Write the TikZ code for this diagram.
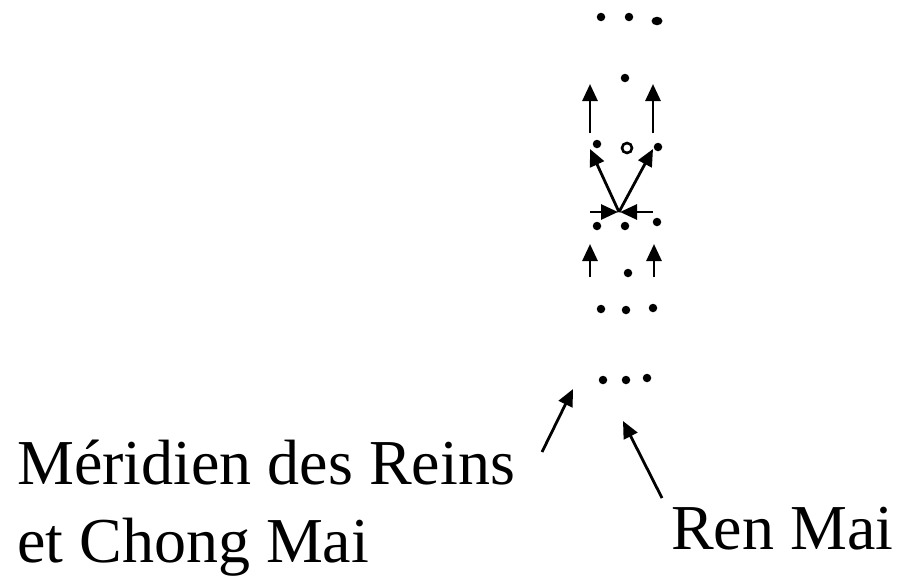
\documentclass[tikz,border=0pt]{standalone}
\usepackage{fontspec}
\setmainfont{Liberation Serif}
\usetikzlibrary{arrows.meta,shapes.geometric}
\begin{document}
\begin{tikzpicture}[x=1pt,y=-1pt,
  dot/.style={circle,fill=black,inner sep=0pt,minimum size=8.5pt},
  bigdot/.style={ellipse,fill=black,inner sep=0pt,minimum width=11pt,minimum height=8.5pt},
  ring/.style={circle,draw=black,line width=2.6pt,inner sep=0pt,minimum size=10pt},
  arr/.style={line width=2.8pt,-{Triangle[length=17pt,width=15pt]}},
  lbl/.style={inner sep=0pt,anchor=base west,font=\fontsize{64}{64}\selectfont}]
\useasboundingbox (0,0) rectangle (897,576);
% dots
\node[dot] (a1) at (601,17) {};
\node[dot] (a2) at (629,17) {};
\node[bigdot] (a3) at (657,21) {};
\node[dot] (b1) at (625,78) {};
\node[dot] (c1) at (597,144) {};
\node[ring] (c2) at (627,148) {};
\node[dot] (c3) at (658,147) {};
\node[dot] (d1) at (597,226) {};
\node[dot] (d2) at (625,226) {};
\node[dot] (d3) at (657,222) {};
\node[dot] (e1) at (628,273) {};
\node[dot] (f1) at (601,309) {};
\node[dot] (f2) at (626,310) {};
\node[dot] (f3) at (653,308) {};
\node[dot] (g1) at (603,380) {};
\node[dot] (g2) at (626,380) {};
\node[dot] (g3) at (647,378) {};
% arrow end points
\coordinate (u1s) at (590,133); \coordinate (u1e) at (590,84);
\coordinate (u2s) at (653,133); \coordinate (u2e) at (653,84);
\coordinate (x) at (619,212);
\coordinate (l1) at (590,149); \coordinate (r1) at (653,149);
\coordinate (hl) at (590,212); \coordinate (hle) at (618,212);
\coordinate (hr) at (653,212); \coordinate (hre) at (620,212);
\coordinate (v1s) at (590,277); \coordinate (v1e) at (590,244);
\coordinate (v2s) at (654,277); \coordinate (v2e) at (654,244);
\coordinate (k1s) at (542,452); \coordinate (k1e) at (573,389);
\coordinate (k2s) at (662,498); \coordinate (k2e) at (623,421);
% arrows
\draw[arr] (u1s) -- (u1e);
\draw[arr] (u2s) -- (u2e);
\draw[arr] (x) -- (l1);
\draw[arr] (x) -- (r1);
\draw[arr] (hl) -- (hle);
\draw[arr] (hr) -- (hre);
\draw[arr] (v1s) -- (v1e);
\draw[arr] (v2s) -- (v2e);
\draw[arr] (k1s) -- (k1e);
\draw[arr] (k2s) -- (k2e);
% labels
\node[lbl] (t1) at (17,484) {Méridien des Reins};
\node[lbl] (t2) at (17,562) {et Chong Mai};
\node[lbl] (t3) at (671,549) {Ren Mai};
\end{tikzpicture}
\end{document}
